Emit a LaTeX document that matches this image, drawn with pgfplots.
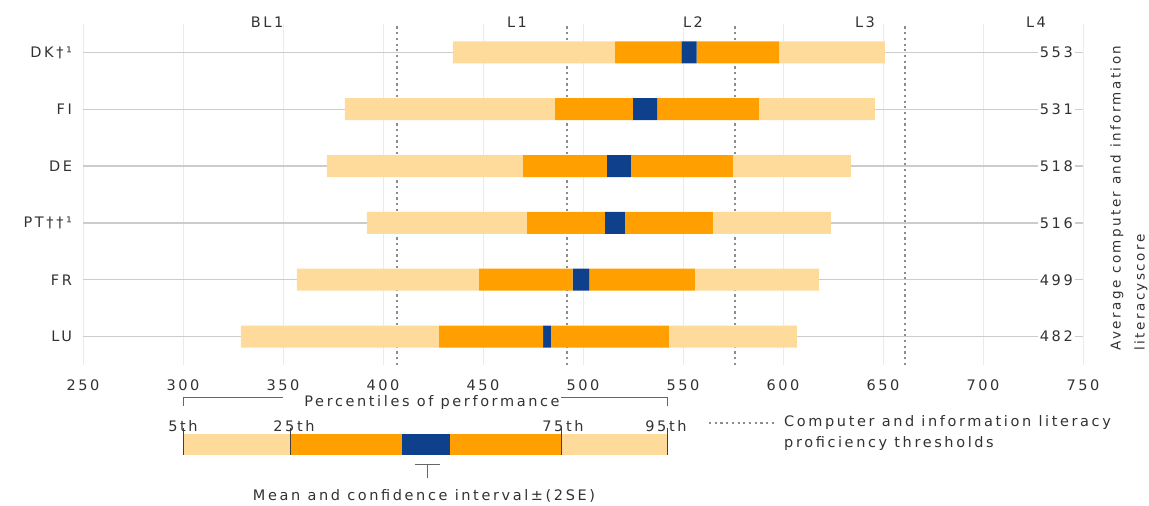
\documentclass[border=0pt]{standalone}
\usepackage{fontspec}
\setmainfont{DejaVu Sans}[LetterSpace=18]
\usepackage{pgfplots}
\pgfplotsset{compat=1.18}
\usepackage{pgfplotstable}
\definecolor{cLight}{RGB}{255,219,155}
\definecolor{cOrange}{RGB}{255,160,0}
\definecolor{cBlue}{RGB}{14,64,140}
\definecolor{cText}{RGB}{50,50,50}
\definecolor{cDot}{RGB}{140,140,140}

\pgfplotstableread{
row p5 p25 mean ci p75 p95
5 435 516 553 3.8 598 651
4 381 486 531 6.1 588 646
3 372 470 518 6.0 575 634
2 392 472 516 5.0 565 624
1 357 448 499 4.2 556 618
0 329 428 482 1.9 543 607
}\data

\begin{document}
\fontsize{14.5pt}{17pt}\selectfont
\begin{tikzpicture}[x=1pt,y=1pt]
\path[use as bounding box] (0,0) rectangle (1149,506);
\begin{axis}[
  at={(83pt,141pt)}, anchor=south west,
  width=1000pt, height=341pt, scale only axis,
  xmin=250, xmax=750, ymin=-0.5, ymax=5.5,
  xbar stacked, bar width=22pt,
  axis line style={draw=none},
  clip=false,
  xtick={250,300,...,750},
  ytick={0,1,2,3,4,5},
  yticklabels={LU,FR,{PT\char"2020\char"2020\char"00B9},DE,FI,{DK\char"2020\char"00B9}},
  major tick length=0pt,
  xmajorgrids, ymajorgrids,
  major x grid style={draw=black!8, line width=0.9pt},
  major y grid style={draw=black!20, line width=1.2pt},
  /pgf/number format/assume math mode=true,
  /pgf/number format/1000 sep={},
  xticklabel style={anchor=center, yshift=-20pt, text=cText},
  yticklabel style={xshift=-6pt, text=cText},
]
\addplot[draw=none, fill=none] table[x=p5, y=row] {\data};
\addplot[fill=cLight, draw=none] table[x expr=\thisrow{p25}-\thisrow{p5}, y=row] {\data};
\addplot[fill=cOrange, draw=none] table[x expr=\thisrow{mean}-\thisrow{ci}-\thisrow{p25}, y=row] {\data};
\addplot[fill=cBlue, draw=none] table[x expr=2*\thisrow{ci}, y=row] {\data};
\addplot[fill=cOrange, draw=none] table[x expr=\thisrow{p75}-\thisrow{mean}-\thisrow{ci}, y=row] {\data};
\addplot[fill=cLight, draw=none] table[x expr=\thisrow{p95}-\thisrow{p75}, y=row] {\data};

\draw[cDot, line width=2.2pt, dash pattern=on 2.2pt off 3.5pt] (axis cs:407,-0.5) -- (axis cs:407,5.5);
\draw[cDot, line width=2.2pt, dash pattern=on 2.2pt off 3.5pt] (axis cs:492,-0.5) -- (axis cs:492,5.5);
\draw[cDot, line width=2.2pt, dash pattern=on 2.2pt off 3.5pt] (axis cs:576,-0.5) -- (axis cs:576,5.5);
\draw[cDot, line width=2.2pt, dash pattern=on 2.2pt off 3.5pt] (axis cs:661,-0.5) -- (axis cs:661,5.5);

\node[text=cText, yshift=2pt] at (axis cs:342,5.5) {BL1};
\node[text=cText, yshift=2pt] at (axis cs:467,5.5) {L1};
\node[text=cText, yshift=2pt] at (axis cs:555,5.5) {L2};
\node[text=cText, yshift=2pt] at (axis cs:641,5.5) {L3};
\node[text=cText, yshift=2pt] at (axis cs:726.5,5.5) {L4};

\node[anchor=east, fill=white, inner sep=2pt, xshift=-8pt, text=cText] at (axis cs:750,5) {553};
\node[anchor=east, fill=white, inner sep=2pt, xshift=-8pt, text=cText] at (axis cs:750,4) {531};
\node[anchor=east, fill=white, inner sep=2pt, xshift=-8pt, text=cText] at (axis cs:750,3) {518};
\node[anchor=east, fill=white, inner sep=2pt, xshift=-8pt, text=cText] at (axis cs:750,2) {516};
\node[anchor=east, fill=white, inner sep=2pt, xshift=-8pt, text=cText] at (axis cs:750,1) {499};
\node[anchor=east, fill=white, inner sep=2pt, xshift=-8pt, text=cText] at (axis cs:750,0) {482};
\end{axis}

% right title
\node[rotate=90, align=left, text=cText, font=\fontsize{13.5pt}{24pt}\selectfont, anchor=center] at (1129,308) {Average computer and information\\literacyscore};

% legend
\draw[black!60, line width=1pt] (183,100) -- (183,108) -- (283,108);
\draw[black!60, line width=1pt] (561,108) -- (667,108) -- (667,100);
\node[text=cText] at (432,103) {Percentiles of performance};

\fill[cLight] (183,51) rectangle (290,72);
\fill[cOrange] (290,51) rectangle (561,72);
\fill[cLight] (561,51) rectangle (667,72);
\fill[cBlue] (402,51) rectangle (450,72);
\draw[black!75, line width=0.9pt] (183,51) -- (183,78);
\draw[black!75, line width=0.9pt] (290,51) -- (290,78);
\draw[black!75, line width=0.9pt] (561,51) -- (561,78);
\draw[black!75, line width=0.9pt] (667,51) -- (667,78);
\node[text=cText] at (183,80) {5th};
\node[text=cText] at (294,80) {25th};
\node[text=cText] at (563,80) {75th};
\node[text=cText] at (666,80) {95th};

\draw[black!60, line width=1pt] (415,41) -- (440,41);
\draw[black!60, line width=1pt] (427.5,41) -- (427.5,28);
\node[text=cText] at (424,10) {Mean and confidence interval\char"00B1(2SE)};

\draw[cDot, line width=2.2pt, dash pattern=on 2.2pt off 3.5pt] (709,83) -- (777,83);
\node[anchor=west, text=cText, inner sep=0pt] at (784,83) {Computer and information literacy};
\node[anchor=west, text=cText, inner sep=0pt] at (784,62) {proficiency thresholds};
\end{tikzpicture}
\end{document}
